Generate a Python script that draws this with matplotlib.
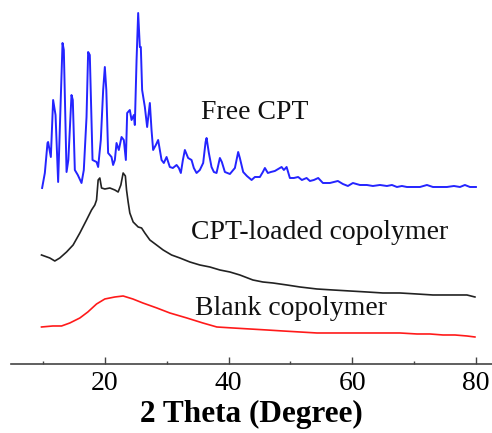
"""XRD patterns: free CPT, CPT-loaded copolymer and blank copolymer."""

import matplotlib
matplotlib.use("Agg")
import matplotlib.pyplot as plt
from matplotlib.ticker import MultipleLocator

# ---- data (2 theta in degrees, intensity in arbitrary units) ----
free_theta = [
    9.86, 10.30, 10.73, 10.83, 11.27, 11.64, 12.03, 12.45, 13.16, 13.37,
    13.81, 14.10, 14.61, 14.82, 15.15, 15.63, 16.23, 16.60, 17.04, 17.30,
    17.57, 18.01, 18.66, 18.92, 19.35, 19.73, 20.00, 20.24, 20.53, 20.81,
    21.08, 21.34, 21.62, 21.89, 22.26, 22.70, 23.07, 23.40, 23.61, 24.04,
    24.32, 24.69, 24.85, 25.13, 25.39, 25.66, 25.82, 26.03, 26.47, 26.84,
    27.28, 27.55, 27.81, 28.25, 28.62, 29.17, 29.54, 29.98, 30.51, 31.00,
    31.60, 31.97, 32.29, 32.62, 32.94, 33.47, 34.02, 34.39, 34.83, 35.36,
    35.90, 36.29, 36.45, 36.82, 37.25, 37.63, 38.06, 38.60, 38.92, 39.41,
    40.22, 41.03, 41.56, 41.83, 42.37, 42.97, 43.73, 44.26, 45.07, 45.55,
    45.88, 46.36, 46.85, 47.49, 48.03, 48.58, 48.95, 49.39, 49.92, 50.57,
    51.26, 51.86, 52.62, 53.16, 53.80, 54.50, 55.26, 56.39, 57.68, 58.49,
    59.30, 60.11, 61.24, 62.37, 63.34, 64.48, 65.61, 66.42, 67.23, 68.03,
    68.84, 69.81, 70.95, 72.08, 73.05, 74.18, 75.31, 76.45, 77.42, 78.22,
    79.03, 80.00,
]
free_int = [
    245, 260, 290, 291, 276, 333, 318, 251, 390, 383,
    261, 273, 338, 333, 263, 258, 250, 263, 316, 381,
    378, 273, 271, 266, 293, 343, 366, 343, 280, 278,
    276, 268, 273, 290, 283, 296, 293, 273, 320, 323,
    313, 318, 308, 373, 420, 386, 386, 343, 326, 306,
    330, 303, 283, 288, 293, 273, 270, 276, 266, 265,
    268, 265, 260, 273, 283, 275, 273, 265, 260, 263,
    270, 291, 295, 280, 266, 261, 260, 275, 271, 261,
    259, 265, 281, 275, 261, 257, 253, 256, 256, 261,
    265, 260, 261, 262, 264, 266, 263, 266, 255, 255,
    256, 253, 255, 252, 253, 255, 250, 250, 252, 249,
    247, 250, 248, 248, 247, 248, 247, 248, 246, 247,
    246, 246, 246, 248, 246, 246, 246, 247, 246, 248,
    246, 246,
]

loaded_theta = [
    9.76, 11.10, 11.91, 12.72, 13.81, 14.87, 15.96, 17.04, 17.85, 18.38,
    18.66, 18.92, 19.19, 19.47, 20.00, 20.81, 21.62, 22.15, 22.59, 22.96,
    23.32, 23.51, 23.77, 24.04, 24.58, 25.39, 25.94, 26.47, 27.28, 28.36,
    29.43, 30.79, 32.13, 33.75, 35.36, 36.98, 38.60, 40.22, 41.83, 43.94,
    45.55, 47.17, 49.44, 51.54, 54.29, 56.88, 59.62, 62.37, 64.96, 67.71,
    70.46, 73.05, 75.80, 78.55, 79.84,
]
loaded_int = [
    178, 175, 172, 175, 181, 188, 200, 213, 223, 228,
    233, 253, 255, 245, 244, 245, 243, 241, 248, 260,
    257, 243, 231, 220, 211, 206, 205, 200, 193, 188,
    183, 178, 175, 171, 168, 166, 163, 161, 158, 153,
    151, 150, 148, 146, 144, 143, 142, 141, 140, 140,
    139, 138, 138, 138, 136,
]

blank_theta = [
    9.76, 11.59, 13.00, 14.34, 15.96, 17.25, 18.66, 20.00, 21.62, 22.96,
    24.53, 26.15, 28.41, 30.51, 33.26, 35.85, 38.11, 40.70, 43.45, 46.20,
    48.79, 51.54, 54.29, 56.88, 59.62, 62.37, 64.96, 67.71, 70.46, 72.56,
    74.67, 76.61, 78.55, 79.84,
]
blank_int = [
    106, 107, 107, 110, 115, 121, 129, 134, 136, 137,
    134, 130, 125, 120, 115, 110, 106, 105, 104, 103,
    102, 101, 100, 100, 100, 100, 100, 100, 99, 99,
    98, 98, 97, 96,
]

labels = ["Free CPT", "CPT-loaded copolymer", "Blank copolymer"]
label_pos = [(35.6, 314), (34.0, 194), (34.6, 118)]

plt.rcParams["font.family"] = ["Liberation Serif", "DejaVu Serif"]

fig = plt.figure(figsize=(4.92, 4.33), dpi=100)
ax = fig.add_axes([0.022, 0.1587, 0.978, 0.8413])

ax.plot(free_theta, free_int, color="#2424ff", lw=1.4)
ax.plot(loaded_theta, loaded_int, color="#222222", lw=1.2)
ax.plot(blank_theta, blank_int, color="#ff1a1a", lw=1.2)

for text, (x, y) in zip(labels, label_pos):
    ax.text(x, y, text, fontsize=20, va="baseline", ha="left", color="#111111")

ax.set_xlim(4.8, 82.6)
ax.set_ylim(68.7, 433)

for side in ("left", "top", "right"):
    ax.spines[side].set_visible(False)
ax.spines["bottom"].set_color("#444444")
ax.spines["bottom"].set_linewidth(1.2)

ax.set_yticks([])
ax.set_xticks([20, 40, 60, 80])
ax.xaxis.set_minor_locator(MultipleLocator(10))
ax.tick_params(axis="x", which="major", direction="in", length=5, width=1,
               color="#444444", labelsize=20, pad=5)
ax.tick_params(axis="x", which="minor", direction="in", length=2.5, width=1,
               color="#444444")
ax.set_xlabel("2 Theta (Degree)", fontsize=22.5, fontweight="bold", labelpad=3)

fig.savefig("out.png", dpi=100, facecolor="white")
